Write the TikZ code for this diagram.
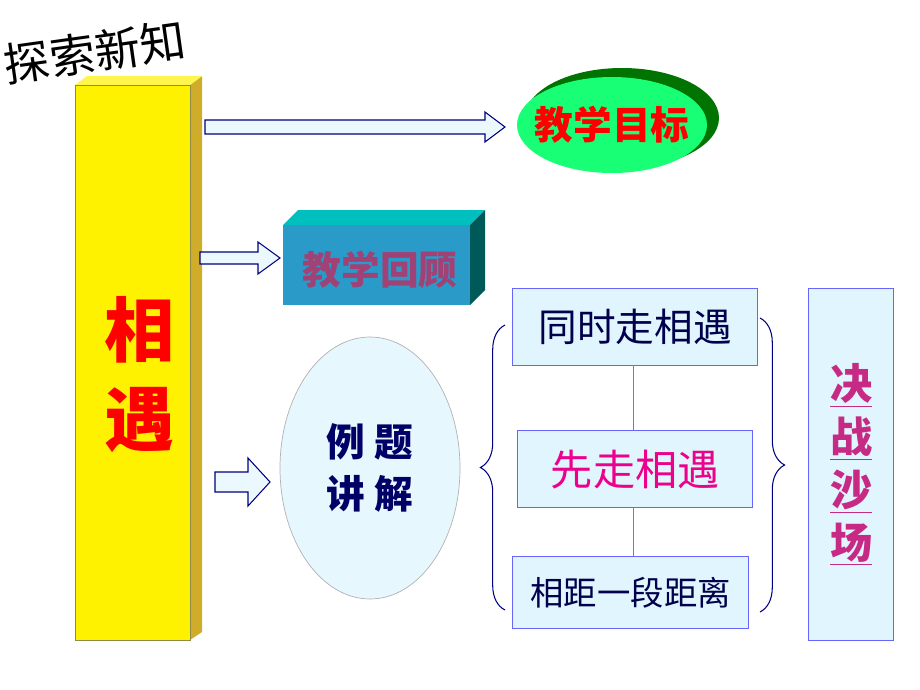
\documentclass[tikz,border=0pt]{standalone}
\usepackage{fontspec}
\newfontfamily\cjk{Noto Sans CJK SC}
\usetikzlibrary{shapes.geometric,decorations.pathreplacing}
\begin{document}
\begin{tikzpicture}[x=0.02cm,y=-0.02cm,font=\cjk,
  harrow/.style={draw=blue!50!black,fill=cyan!8,line width=0.6pt},
  sbox/.style={draw=blue!60,fill=cyan!12,line width=0.8pt,inner sep=0pt},
  brc/.style={draw=blue!50!black,line width=0.6pt,decorate,decoration={brace,amplitude=14pt}}]
\useasboundingbox (0,0) rectangle (920,690);
\node[rotate=8,font=\cjk\fontsize{26}{26}\selectfont] (title) at (95,52) {探索新知};
% yellow bar
\fill[yellow!60!orange!80!black] (190,85) -- (202,76) -- (202,632) -- (190,640) -- cycle;
\fill[yellow!70!white] (75,85) -- (87,76) -- (202,76) -- (190,85) -- cycle;
\fill[yellow] (75,85) rectangle (190,640);
\draw[yellow!50!black,line width=0.4pt] (75,85) rectangle (190,640);
\node[text=red,font=\cjk\bfseries\fontsize{40}{40}\selectfont] (x1) at (140,330) {相};
\node[text=red,font=\cjk\bfseries\fontsize{40}{40}\selectfont] (x2) at (140,420) {遇};
% arrows
\draw[harrow] (205,120) -- (485,120) -- (485,112) -- (505,127) -- (485,142) -- (485,134) -- (205,134) -- cycle;
\draw[harrow] (200,252) -- (258,252) -- (258,242) -- (280,258) -- (258,274) -- (258,264) -- (200,264) -- cycle;
\draw[harrow] (215,472) -- (248,472) -- (248,458) -- (270,482) -- (248,506) -- (248,492) -- (215,492) -- cycle;
% green ellipse
\fill[green!45!black] (622,118) ellipse [x radius=97,y radius=50];
\node[ellipse,fill=green!60!cyan!90,minimum width=190*0.02cm,minimum height=96*0.02cm,inner sep=0pt] (goal) at (612,125) {};
\node[text=red,font=\cjk\bfseries\fontsize{22}{22}\selectfont] at (goal) {教学目标};
% teal box
\fill[teal!50!cyan] (283,225) -- (298,210) -- (485,210) -- (470,225) -- cycle;
\fill[teal!70!black] (470,225) -- (485,210) -- (485,290) -- (470,305) -- cycle;
\node[fill=cyan!60!teal,minimum width=187*0.02cm,minimum height=80*0.02cm,inner sep=0pt,anchor=north west] (rev) at (283,225) {};
\node[text=magenta!60!black,font=\cjk\bfseries\fontsize{22}{22}\selectfont] at (380,270) {教学回顾};
% example ellipse
\node[ellipse,draw=gray!60,fill=cyan!10,minimum width=180*0.02cm,minimum height=262*0.02cm,inner sep=0pt] (ex) at (370,468) {};
\node[text=blue!40!black,font=\cjk\bfseries\fontsize{22}{30}\selectfont,align=center] at (ex) {例 题\\讲 解};
% boxes
\node[sbox,minimum width=245*0.02cm,minimum height=77*0.02cm,anchor=north west,text=blue!30!black,font=\cjk\fontsize{22}{22}\selectfont] (b1) at (512,288) {同时走相遇};
\node[sbox,minimum width=235*0.02cm,minimum height=77*0.02cm,anchor=north west,text=magenta,font=\cjk\fontsize{24}{24}\selectfont] (b2) at (517,430) {先走相遇};
\node[sbox,minimum width=236*0.02cm,minimum height=72*0.02cm,anchor=north west,text=blue!30!black,font=\cjk\fontsize{19}{19}\selectfont] (b3) at (512,556) {相距一段距离};
\draw[gray] (633,365) -- (633,430);
\draw[gray] (633,507) -- (633,556);
\draw[brc] (505,610) -- (505,325);
\draw[brc] (760,318) -- (760,612);
\node[sbox,minimum width=85*0.02cm,minimum height=352*0.02cm,anchor=north west] (fin) at (808,288) {};
\node[text=magenta!80!black,font=\cjk\bfseries\fontsize{24}{30}\selectfont,align=center] at (fin) {\underline{决}\\\underline{战}\\\underline{沙}\\\underline{场}};
\end{tikzpicture}
\end{document}
